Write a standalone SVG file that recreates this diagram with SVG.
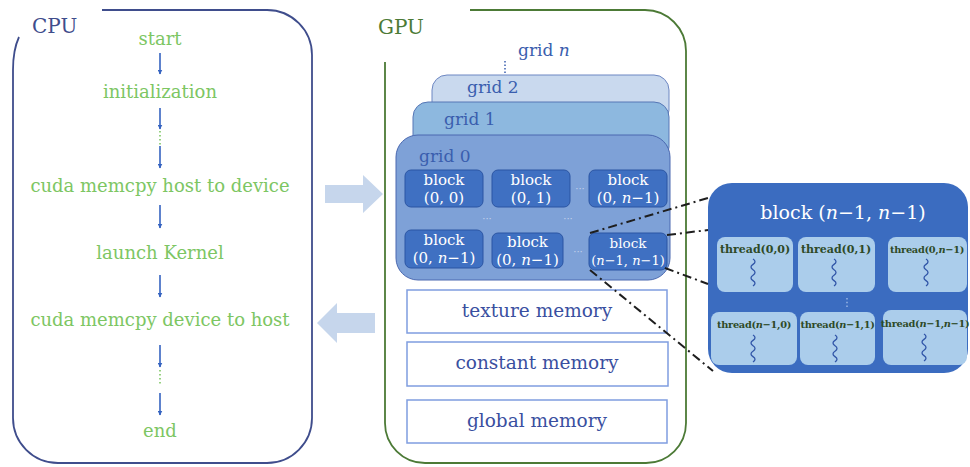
<svg xmlns="http://www.w3.org/2000/svg" width="970" height="467" viewBox="0 0 970 467">
  <style>
    text { font-family: "DejaVu Serif", "Liberation Serif", serif; }
    .flow { fill: #7dc663; font-size: 18px; text-anchor: middle; }
    .cpu-frame { fill: none; stroke: #3f4d8c; stroke-width: 1.8; }
    .gpu-frame { fill: none; stroke: #4c7a36; stroke-width: 1.8; }
    .step { stroke: #3563c0; stroke-width: 1.6; marker-end: url(#head); }
    .gap { stroke: #7dc663; stroke-width: 1.6; stroke-dasharray: 1.5 2.5; }
    .gridlbl { fill: #3a5eae; font-size: 17px; }
    .blk { fill: #3f70c2; stroke: #2b55a3; stroke-width: 1; }
    .blktxt { fill: #ffffff; font-size: 15px; text-anchor: middle; }
    .mem { fill: #ffffff; stroke: #7f9de0; stroke-width: 1.5; }
    .memtxt { fill: #3a4fa0; font-size: 18.5px; text-anchor: middle; }
    .cell { fill: #abcdeb; }
    .thr { fill: #2e4a27; font-size: 11px; font-weight: bold; text-anchor: middle; }
    .thr-tight { font-size: 9.8px; letter-spacing: -0.3px; }
    .wave { fill: none; stroke: #3156a8; stroke-width: 1.3; }
    .dots { fill: #c9d6ee; font-size: 10px; text-anchor: middle; }
    .link { fill: none; stroke: #1e1e1e; stroke-width: 2; stroke-dasharray: 9 4 2 4; }
    .bigarrow { fill: #c6d6ec; }
  </style>
  <defs>
    <marker id="head" viewBox="0 0 10 10" refX="9" refY="5" markerWidth="5" markerHeight="5" orient="auto" markerUnits="userSpaceOnUse">
      <path d="M0 0 L10 5 L0 10 z" fill="#3563c0"/>
    </marker>
    <path id="squiggle" class="wave" d="M0 0 q 4 2.7 0 5.4 t 0 5.4 t 0 5.4 t 0 5.4 t 0 5.4"/>
  </defs>

  <!-- host side -->
  <g id="cpu">
    <path class="cpu-frame" d="M102 10 H267 A45 45 0 0 1 312 55 V418 A45 45 0 0 1 267 463 H58 A45 45 0 0 1 13 418 V70 Q13 50 19 37"/>
    <text x="32" y="33" style="fill:#3f4d8c;font-size:20px">CPU</text>
  </g>

  <g id="flow-start"><text class="flow" x="160" y="45">start</text></g>
  <g id="flow-init"><text class="flow" x="160" y="98">initialization</text></g>
  <g id="flow-h2d"><text class="flow" x="160" y="192">cuda memcpy host to device</text></g>
  <g id="flow-launch"><text class="flow" x="160" y="259">launch Kernel</text></g>
  <g id="flow-d2h"><text class="flow" x="160" y="326">cuda memcpy device to host</text></g>
  <g id="flow-end"><text class="flow" x="160" y="437">end</text></g>

  <!-- device side -->
  <g id="gpu">
    <path class="gpu-frame" d="M470 10 H645 A41 41 0 0 1 686 51 V423 A40 40 0 0 1 646 463 H425 A40 40 0 0 1 385 423 V62"/>
    <text x="378" y="34" style="fill:#4c7a36;font-size:20px">GPU</text>
  </g>

  <g id="grid-n">
    <text class="gridlbl" x="518" y="56">grid <tspan font-style="italic">n</tspan></text>
    <line x1="505" y1="61" x2="505" y2="75" stroke="#3a5eae" stroke-width="1.5" stroke-dasharray="1.5 2"/>
  </g>
  <g id="grid-2">
    <rect x="432" y="75" width="237" height="50" rx="15" fill="#c9d9ee" stroke="#6d87c2" stroke-width="1"/>
    <text class="gridlbl" x="467" y="93">grid 2</text>
  </g>
  <g id="grid-1">
    <rect x="413" y="102" width="256" height="60" rx="15" fill="#8db8df" stroke="#5676b6" stroke-width="1"/>
    <text class="gridlbl" x="444" y="125">grid 1</text>
  </g>
  <g id="grid-0">
    <rect x="396" y="135" width="274" height="145" rx="22" fill="#7ea1d7" stroke="#4a68b0" stroke-width="1"/>
    <text class="gridlbl" x="419" y="162">grid 0</text>
    <text class="dots" x="580" y="192">···</text>
    <text class="dots" x="487" y="222">···</text>
    <text class="dots" x="568" y="222">···</text>
    <text class="dots" x="578" y="255">···</text>
  </g>

  <g id="block-0-0">
    <rect class="blk" x="405" y="170" width="78" height="37" rx="6"/>
    <text class="blktxt" x="444" y="185">block</text>
    <text class="blktxt" x="444" y="203">(0, 0)</text>
  </g>
  <g id="block-0-1">
    <rect class="blk" x="492" y="170" width="78" height="37" rx="6"/>
    <text class="blktxt" x="531" y="185">block</text>
    <text class="blktxt" x="531" y="203">(0, 1)</text>
  </g>
  <g id="block-0-last">
    <rect class="blk" x="589" y="170" width="78" height="37" rx="6"/>
    <text class="blktxt" x="628" y="185">block</text>
    <text class="blktxt" x="628" y="203">(0, <tspan font-style="italic">n</tspan>−1)</text>
  </g>
  <g id="block-row-a">
    <rect class="blk" x="405" y="230" width="78" height="38" rx="6"/>
    <text class="blktxt" x="444" y="245">block</text>
    <text class="blktxt" x="444" y="263">(0, <tspan font-style="italic">n</tspan>−1)</text>
  </g>
  <g id="block-row-b">
    <rect class="blk" x="492" y="233" width="71" height="35" rx="6"/>
    <text class="blktxt" x="527.5" y="247">block</text>
    <text class="blktxt" x="527.5" y="265">(0, <tspan font-style="italic">n</tspan>−1)</text>
  </g>
  <g id="block-last">
    <rect class="blk" x="589" y="233" width="78" height="37" rx="6"/>
    <text class="blktxt" x="628" y="248" style="font-size:13.5px">block</text>
    <text class="blktxt" x="628" y="265" style="font-size:13px">(<tspan font-style="italic">n</tspan>−1, <tspan font-style="italic">n</tspan>−1)</text>
  </g>

  <g id="texture-memory">
    <rect class="mem" x="407" y="290" width="260" height="43"/>
    <text class="memtxt" x="537" y="317">texture memory</text>
  </g>
  <g id="constant-memory">
    <rect class="mem" x="407" y="342" width="261" height="44"/>
    <text class="memtxt" x="537" y="369">constant memory</text>
  </g>
  <g id="global-memory">
    <rect class="mem" x="407" y="400" width="260" height="43"/>
    <text class="memtxt" x="537" y="427">global memory</text>
  </g>

  <!-- expanded view of one block -->
  <g id="block-detail">
    <rect x="708" y="183" width="260" height="190" rx="24" fill="#3b6cc0"/>
    <text x="843" y="219" style="fill:#ffffff;font-size:19px;text-anchor:middle">block (<tspan font-style="italic">n</tspan>−1, <tspan font-style="italic">n</tspan>−1)</text>
    <line x1="847" y1="298" x2="847" y2="309" stroke="#9fb9e6" stroke-width="1.4" stroke-dasharray="1.4 2.4"/>
  </g>
  <g id="thread-0-0">
    <rect class="cell" x="717" y="237" width="76" height="55" rx="8"/>
    <text class="thr" x="755" y="253">thread(0,0)</text>
    <use href="#squiggle" x="753" y="259"/>
  </g>
  <g id="thread-0-1">
    <rect class="cell" x="798" y="237" width="77" height="55" rx="8"/>
    <text class="thr" x="836" y="253">thread(0,1)</text>
    <use href="#squiggle" x="834" y="259"/>
  </g>
  <g id="thread-0-last">
    <rect class="cell" x="888" y="237" width="79" height="55" rx="8"/>
    <text class="thr thr-tight" x="927" y="253">thread(0,<tspan font-style="italic">n</tspan>−1)</text>
    <use href="#squiggle" x="926" y="259"/>
  </g>
  <g id="thread-last-0">
    <rect class="cell" x="711" y="312" width="86" height="53" rx="8"/>
    <text class="thr thr-tight" x="754" y="328">thread(<tspan font-style="italic">n</tspan>−1,0)</text>
    <use href="#squiggle" x="753" y="335"/>
  </g>
  <g id="thread-last-1">
    <rect class="cell" x="800" y="312" width="75" height="53" rx="8"/>
    <text class="thr thr-tight" x="837.5" y="328">thread(<tspan font-style="italic">n</tspan>−1,1)</text>
    <use href="#squiggle" x="835" y="335"/>
  </g>
  <g id="thread-last-last">
    <rect class="cell" x="883" y="310" width="84" height="55" rx="8"/>
    <text class="thr thr-tight" x="925" y="327">thread(<tspan font-style="italic">n</tspan>−1,<tspan font-style="italic">n</tspan>−1)</text>
    <use href="#squiggle" x="924" y="334"/>
  </g>

  <!-- connectors -->
  <g id="connectors">
    <line class="step" x1="160" y1="53" x2="160" y2="74"/>
    <line class="step" x1="160" y1="108" x2="160" y2="129"/>
    <line class="gap" x1="160" y1="131" x2="160" y2="145"/>
    <line class="step" x1="160" y1="146" x2="160" y2="168"/>
    <line class="step" x1="160" y1="205" x2="160" y2="228"/>
    <line class="step" x1="160" y1="275" x2="160" y2="297"/>
    <line class="step" x1="160" y1="345" x2="160" y2="367"/>
    <line class="gap" x1="160" y1="370" x2="160" y2="386"/>
    <line class="step" x1="160" y1="393" x2="160" y2="415"/>

    <path class="bigarrow" d="M325 185 H363 V175 L383 194 L363 213 V203 H325 Z"/>
    <path class="bigarrow" d="M375 313 H337 V303 L317 323 L337 343 V333 H375 Z"/>

    <line class="link" x1="590" y1="233" x2="708" y2="198"/>
    <line class="link" x1="667" y1="235" x2="708" y2="230"/>
    <line class="link" x1="665" y1="268" x2="708" y2="284"/>
    <line class="link" x1="590" y1="270" x2="713" y2="371"/>
  </g>
</svg>
